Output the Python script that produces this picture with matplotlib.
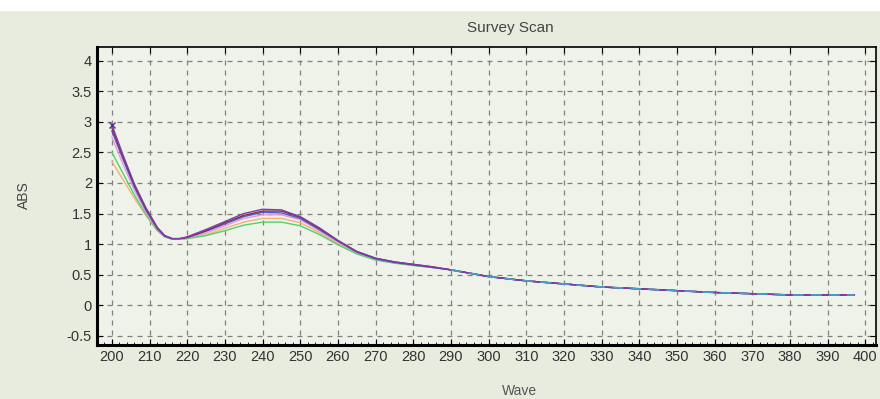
import matplotlib
matplotlib.use('Agg')
import matplotlib.pyplot as plt
from matplotlib.patches import Rectangle

plt.rcParams['font.family'] = ['Liberation Sans', 'DejaVu Sans']

# wavelengths (nm) for the part where the scans differ
wave_head = [200, 203, 206, 209, 212, 214, 216, 218, 220, 225, 230, 235, 240, 245, 250, 255, 260, 265, 270, 275, 280, 285]
# shared tail, all scans overlap here
wave_tail = [290, 300, 310, 320, 330, 340, 350, 360, 370, 380, 390, 397]
abs_tail = [0.58, 0.47, 0.40, 0.35, 0.30, 0.27, 0.24, 0.21, 0.19, 0.17, 0.17, 0.17]

scan_purple = [2.95, 2.45, 1.98, 1.60, 1.28, 1.14, 1.09, 1.09, 1.12, 1.24, 1.37, 1.50, 1.57, 1.56, 1.45, 1.27, 1.06, 0.88, 0.77, 0.71, 0.67, 0.63]
scan_maroon = [2.90, 2.42, 1.96, 1.58, 1.27, 1.14, 1.09, 1.09, 1.11, 1.22, 1.35, 1.47, 1.54, 1.54, 1.44, 1.26, 1.06, 0.88, 0.77, 0.71, 0.67, 0.63]
scan_blue = [2.85, 2.38, 1.93, 1.56, 1.26, 1.13, 1.09, 1.09, 1.11, 1.21, 1.33, 1.45, 1.52, 1.51, 1.42, 1.24, 1.05, 0.87, 0.76, 0.70, 0.66, 0.62]
scan_pink = [2.75, 2.30, 1.88, 1.53, 1.25, 1.13, 1.08, 1.08, 1.10, 1.18, 1.30, 1.42, 1.48, 1.48, 1.40, 1.22, 1.03, 0.86, 0.76, 0.70, 0.66, 0.62]
scan_orange = [2.35, 2.05, 1.75, 1.47, 1.22, 1.12, 1.08, 1.08, 1.09, 1.15, 1.26, 1.36, 1.42, 1.42, 1.35, 1.19, 1.01, 0.85, 0.75, 0.69, 0.66, 0.62]
scan_green = [2.50, 2.15, 1.80, 1.49, 1.23, 1.12, 1.08, 1.08, 1.09, 1.14, 1.22, 1.31, 1.36, 1.36, 1.30, 1.16, 0.99, 0.84, 0.74, 0.69, 0.65, 0.62]

scans = [scan_orange, scan_green, scan_pink, scan_blue, scan_maroon, scan_purple]
colors = ['#f2b27a', '#4fd36a', '#e49ad6', '#4a5fd0', '#8a2a4a', '#7a3fa8']

x_ticks = list(range(200, 401, 10))
y_ticks = [-0.5, 0, 0.5, 1, 1.5, 2, 2.5, 3, 3.5, 4]
y_labels = ['-0.5', '0', '0.5', '1', '1.5', '2', '2.5', '3', '3.5', '4']

fig = plt.figure(figsize=(8.8, 3.99), dpi=100, facecolor='#e7ecdf')
# white strip of the photo above the screen
fig.patches.append(Rectangle((0, 0.975), 1, 0.03, transform=fig.transFigure, color='white', zorder=0))

ax = fig.add_axes([0.110, 0.135, 0.885, 0.747])
ax.set_facecolor('#eff2e9')

for vals, c in zip(scans, colors):
    ax.plot(wave_head + wave_tail, vals + abs_tail, color=c, linewidth=1.0)
# the tail looks dashed in two colours on screen
ax.plot(wave_tail, abs_tail, color='#4aa0c8', linewidth=1.3, dashes=(6, 4))
ax.plot(wave_head[0], scan_purple[0], marker='x', color='#5a2f90', markersize=5)

ax.set_xlim(196.3, 402.7)
ax.set_ylim(-0.65, 4.22)
ax.set_xticks(x_ticks)
ax.set_yticks(y_ticks)
ax.set_yticklabels(y_labels)
ax.set_xticks(range(196, 403, 2), minor=True)
ax.grid(True, linestyle=(0, (4, 4)), color='#808080', linewidth=0.9)
ax.tick_params(axis='both', direction='in', labelsize=10.5, labelcolor='#333333', length=4)
ax.tick_params(axis='x', which='minor', direction='in', length=2)
ax.tick_params(top=True, right=True)
for side in ['left', 'bottom']:
    ax.spines[side].set_linewidth(2.2)
for side in ['top', 'right']:
    ax.spines[side].set_linewidth(1.2)

fig.text(0.58, 0.93, 'Survey Scan', ha='center', va='center', fontsize=11, color='#444444')
fig.text(0.027, 0.51, 'ABS', rotation=90, ha='center', va='center', fontsize=10, color='#444444')
fig.text(0.59, 0.003, 'Wave', ha='center', va='bottom', fontsize=10, color='#555555')

fig.savefig('out.png', dpi=100, facecolor=fig.get_facecolor())
